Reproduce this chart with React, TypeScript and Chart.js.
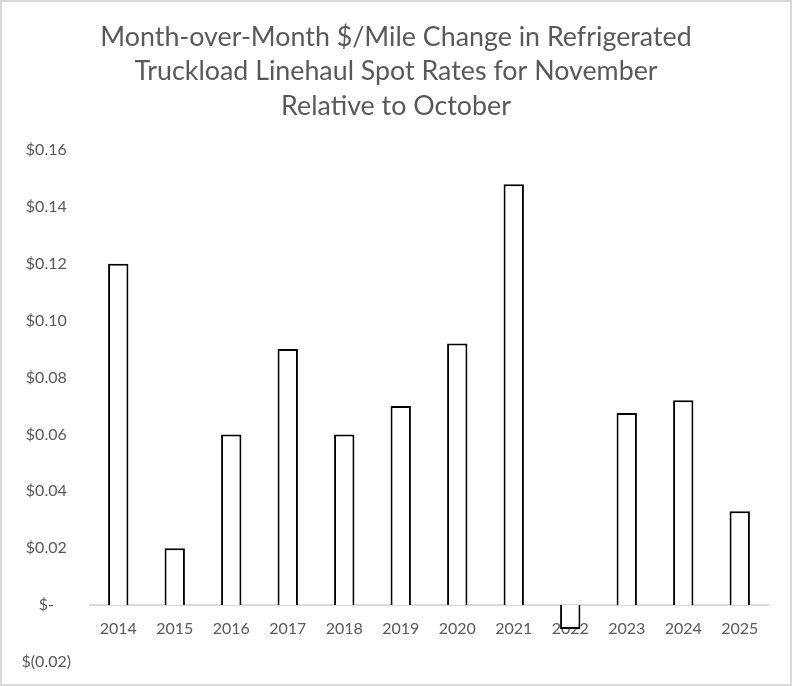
import React, { useEffect, useRef } from "react";
import { Chart, registerables } from "chart.js";

Chart.register(...registerables);

const years = ["2014", "2015", "2016", "2017", "2018", "2019", "2020", "2021", "2022", "2023", "2024", "2025"];
const changes = [0.12, 0.02, 0.06, 0.09, 0.06, 0.07, 0.092, 0.148, -0.0084, 0.0675, 0.072, 0.033];
const titleLines = [
  "Month-over-Month $/Mile Change in Refrigerated",
  "Truckload Linehaul Spot Rates for November",
  "Relative to October",
];
const yMin = -0.02;
const yMax = 0.16;
const yStep = 0.02;

function fmt(v: number): string {
  if (Math.abs(v) < 1e-9) return "$-";
  if (v < 0) return "$(" + Math.abs(v).toFixed(2) + ")";
  return "$" + v.toFixed(2);
}

const decorPlugin = {
  id: "decor",
  beforeDraw(chart: any) {
    const { ctx, width, height } = chart;
    ctx.save();
    ctx.fillStyle = "#ffffff";
    ctx.fillRect(0, 0, width, height);
    ctx.strokeStyle = "#d9d9d9";
    ctx.lineWidth = 2;
    ctx.strokeRect(1, 1, width - 2, height - 2);
    ctx.restore();
  },
  afterDraw(chart: any) {
    const { ctx, width } = chart;
    ctx.save();
    ctx.fillStyle = "#595959";
    ctx.font = "26.8px Lato";
    ctx.textAlign = "center";
    ctx.textBaseline = "middle";
    titleLines.forEach((line, i) => {
      ctx.fillText(line, width / 2, 37 + i * 34.8);
    });
    ctx.restore();
  },
};

export default function App() {
  const ref = useRef<HTMLCanvasElement | null>(null);
  useEffect(() => {
    document.body.style.margin = "0";
    const chart = new Chart(ref.current as HTMLCanvasElement, {
      type: "bar",
      data: {
        labels: years,
        datasets: [
          {
            data: changes,
            backgroundColor: "#ffffff",
            borderColor: "#000000",
            borderWidth: 2,
            barPercentage: 0.36,
            categoryPercentage: 1,
          },
        ],
      },
      options: {
        animation: false,
        responsive: false,
        maintainAspectRatio: false,
        devicePixelRatio: 1,
        layout: { padding: { left: 2, right: 24, top: 150, bottom: 24 } },
        plugins: {
          legend: { display: false },
          tooltip: { enabled: false },
          title: { display: false },
        },
        scales: {
          x: {
            position: { y: 0 } as any,
            grid: { display: false, drawTicks: false },
            border: { display: true, color: "#d9d9d9", width: 2 },
            ticks: {
              color: "#595959",
              font: { family: "Lato", size: 16 },
              padding: 14,
            },
          },
          y: {
            min: yMin,
            max: yMax,
            grid: { display: false, drawTicks: false },
            border: { display: false },
            afterFit(scale: any) {
              scale.width = 88;
              scale.paddingTop = 0;
              scale.paddingBottom = 0;
            },
            ticks: {
              stepSize: yStep,
              color: "#595959",
              font: { family: "Lato", size: 16 },
              crossAlign: "center",
              padding: 19,
              callback: (v: any) => fmt(Number(v)),
            },
          },
        },
      },
      plugins: [decorPlugin],
    });
    return () => chart.destroy();
  }, []);
  return (
    <div style={{ width: 792, height: 686 }}>
      <canvas ref={ref} width={792} height={686} style={{ display: "block" }} />
    </div>
  );
}
